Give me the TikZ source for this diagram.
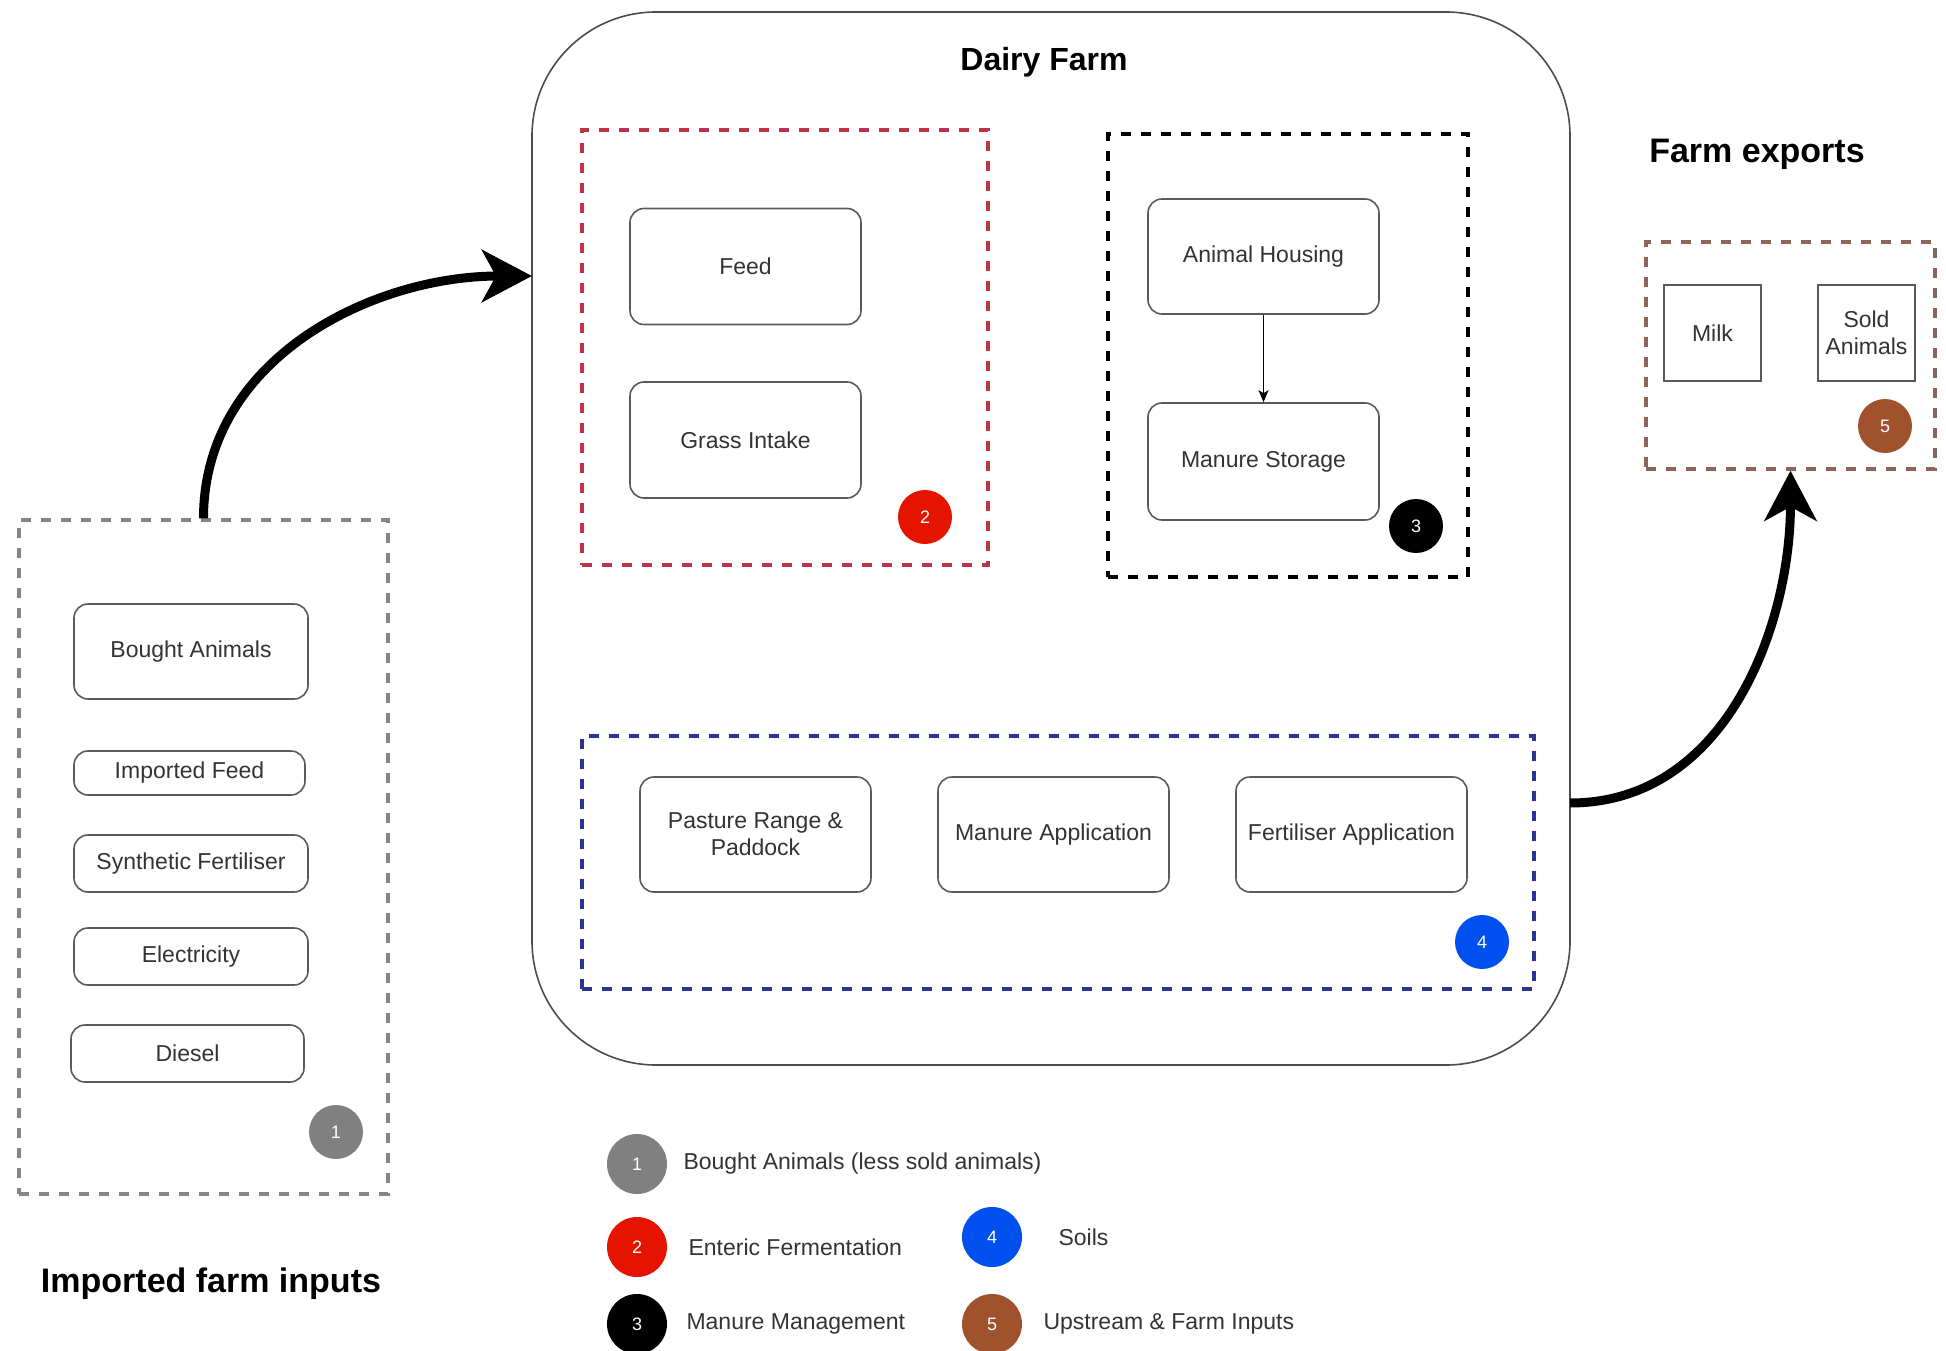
\documentclass[tikz,border=0pt]{standalone}
\usepackage{fontspec}
\setmainfont{Liberation Sans}
\usetikzlibrary{arrows.meta}
\definecolor{txtgrey}{HTML}{333333}
\definecolor{boxgrey}{HTML}{5A5A5A}
\definecolor{badgegrey}{HTML}{808080}
\definecolor{badgered}{HTML}{E51400}
\definecolor{badgeblue}{HTML}{0050EF}
\definecolor{badgebrown}{HTML}{A0522D}
\definecolor{dashgrey}{HTML}{858585}
\definecolor{dashred}{HTML}{BE3446}
\definecolor{dashblue}{HTML}{2B3592}
\definecolor{dashbrown}{HTML}{8E6458}

\begin{document}
\begin{tikzpicture}[x=1pt, y=-1pt,
  item/.style={draw=boxgrey, line width=1.6pt, rounded corners=14pt, text=txtgrey,
    font=\fontsize{23}{27}\selectfont, align=center, inner sep=2pt,
    minimum width=231pt, minimum height=116pt},
  product/.style={item, rounded corners=0pt, minimum width=97pt, minimum height=96pt},
  group/.style={draw=#1, line width=3.4pt, dash pattern=on 10pt off 10pt, inner sep=0pt},
  badge/.style={circle, fill=#1, text=white, inner sep=0pt, minimum size=54pt,
    font=\fontsize{18}{20}\selectfont},
  keybadge/.style={badge=#1, minimum size=60pt},
  keytext/.style={anchor=west, text=txtgrey, font=\fontsize{23}{27}\selectfont},
  heading/.style={font=\bfseries\fontsize{34}{40}\selectfont},
  bigarrow/.style={line width=9pt, -{Stealth[length=50pt, width=52pt, inset=14pt]}}]
  \useasboundingbox (0,0) rectangle (1946,1351);
  % imported inputs
  \node[group=dashgrey, minimum width=369pt, minimum height=674pt] (inputs) at (203.5,857){};
  \node[item, minimum width=234pt, minimum height=95pt] (bought) at (191,651.5){Bought Animals};
  \node[item, minimum height=44pt] (impfeed) at (189.5,773){Imported Feed};
  \node[item, minimum width=234pt, minimum height=57pt] (synfert) at (191,863.5){Synthetic Fertiliser};
  \node[item, minimum width=234pt, minimum height=57pt] (elec) at (191,956.5){Electricity};
  \node[item, minimum width=233pt, minimum height=57pt] (diesel) at (187.5,1053.5){Diesel};
  \node[badge=badgegrey] (b1) at (336,1132){1};
  \node[heading] (inputstitle) at (211,1284){Imported farm inputs};
  % dairy farm
  \node[draw=black!70, line width=1.6pt, rounded corners=124pt, minimum width=1038pt,
    minimum height=1053pt] (farm) at (1051,538.5){};
  \node[heading, font=\bfseries\fontsize{32}{38}\selectfont] (farmtitle) at (1044,62){Dairy Farm};
  \node[group=dashred, minimum width=406pt, minimum height=435pt] (enteric) at (785,347.5){};
  \node[item] (feed) at (745.5,266.5){Feed};
  \node[item] (grass) at (745.5,440){Grass Intake};
  \node[badge=badgered] (b2) at (925,517){2};
  \node[group=black, minimum width=360pt, minimum height=443pt] (manure) at (1288,355.5){};
  \node[item, minimum height=115pt] (housing) at (1263.5,256.5){Animal Housing};
  \node[item, minimum height=117pt] (storage) at (1263.5,461.5){Manure Storage};
  \node[badge=black] (b3) at (1416,526){3};
  \draw[line width=1.4pt, -{Stealth[length=12pt, width=10pt, inset=3pt]}] (housing) -- (storage);
  \node[group=dashblue, minimum width=952pt, minimum height=253pt] (soils) at (1058,862.5){};
  \node[item, minimum height=115pt] (pasture) at (755.5,834.5){Pasture Range \&\\Paddock};
  \node[item, minimum height=115pt] (manapp) at (1053.5,834.5){Manure Application};
  \node[item, minimum height=115pt] (fertapp) at (1351.5,834.5){Fertiliser Application};
  \node[badge=badgeblue] (b4) at (1482,942){4};
  % farm exports
  \node[heading] (exportstitle) at (1757,154){Farm exports};
  \node[group=dashbrown, minimum width=289pt, minimum height=227pt] (exports) at (1790.5,355.5){};
  \node[product] (milk) at (1712.5,333){Milk};
  \node[product] (sold) at (1866.5,333){Sold\\Animals};
  \node[badge=badgebrown] (b5) at (1885,426){5};
  % flows
  \coordinate (farmin) at (532,276);
  \coordinate (farmout) at (1570,803);
  \draw[bigarrow] (inputs.north) to[out=90, in=180] (farmin);
  \draw[bigarrow] (farmout) to[out=0, in=-90] (exports.south);
  % legend
  \node[keybadge=badgegrey] (k1) at (637,1164){1};
  \node[keytext] (t1) at (680,1164){Bought Animals (less sold animals)};
  \node[keybadge=badgered] (k2) at (637,1247){2};
  \node[keytext] (t2) at (685,1247){Enteric Fermentation};
  \node[keybadge=black] (k3) at (637,1324){3};
  \node[keytext] (t3) at (683,1324){Manure Management};
  \node[keybadge=badgeblue] (k4) at (992,1237){4};
  \node[keytext] (t4) at (1055,1237){Soils};
  \node[keybadge=badgebrown] (k5) at (992,1324){5};
  \node[keytext] (t5) at (1040,1324){Upstream \& Farm Inputs};
\end{tikzpicture}
\end{document}
